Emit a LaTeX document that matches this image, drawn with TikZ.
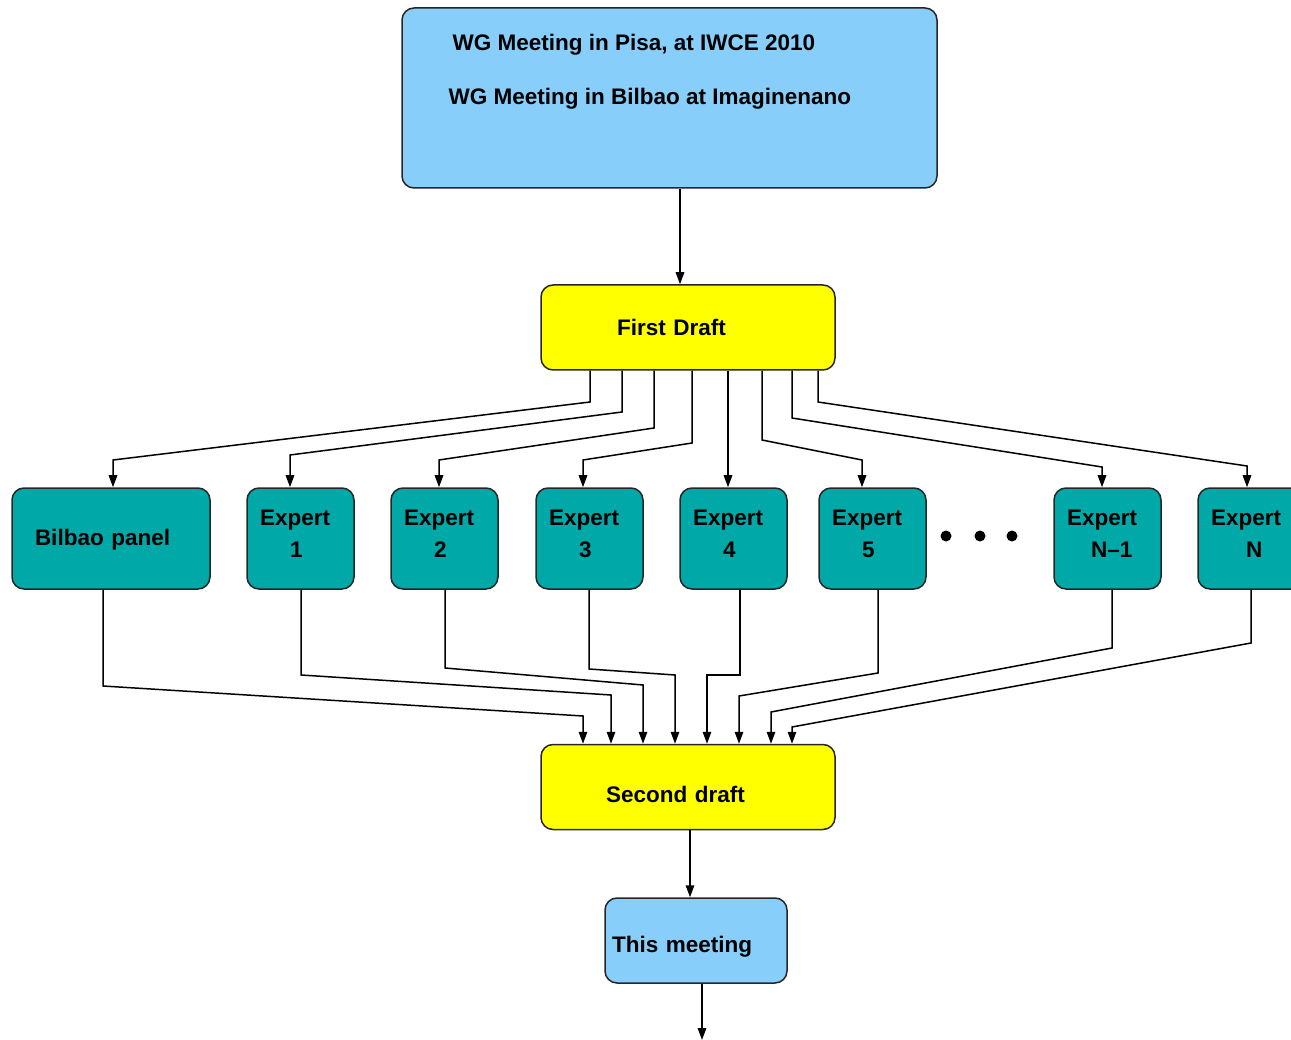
\documentclass[tikz,border=0pt]{standalone}
\usepackage{fontspec}
\setmainfont{Liberation Sans}
\usetikzlibrary{arrows.meta}

\definecolor{meetblue}{RGB}{135,206,250}
\definecolor{expertteal}{RGB}{0,168,168}
\definecolor{draftyellow}{RGB}{255,255,0}

\tikzset{
  box/.style={draw=black!85, line width=1.5pt, rounded corners=12pt, inner sep=0pt,
    font=\bfseries\fontsize{22.5}{32}\selectfont},
  meetbox/.style={box, fill=meetblue},
  draftbox/.style={box, fill=draftyellow, minimum width=294pt, minimum height=85pt},
  expertbox/.style={box, fill=expertteal, minimum width=107pt, minimum height=101pt,
    text width=81pt, align=left, text depth=42pt},
  link/.style={line width=1.5pt, -{Triangle[length=12pt,width=8.5pt]}},
  dot/.style={circle, fill=black, inner sep=0pt, minimum size=11pt}
}

\begin{document}
\begin{tikzpicture}[x=1pt,y=-1pt]
  \useasboundingbox (0,0) rectangle (1291,1040);
  \clip (0,0) rectangle (1291,1040);

  % meetings so far
  \node[meetbox, minimum width=535pt, minimum height=180pt] (meetings) at (669.5,98) {};
  \node[anchor=base west, font=\bfseries\fontsize{22.5}{26}\selectfont] (pisa) at (449,51) {WG Meeting in Pisa, at IWCE 2010};
  \node[anchor=base west, font=\bfseries\fontsize{22.5}{26}\selectfont] (bilbaomeet) at (445,105) {WG Meeting in Bilbao at Imaginenano};

  % drafts
  \node[draftbox, text width=142pt, align=left] (draft1) at (688,327.5) {First Draft};
  \node[draftbox, text width=164pt, align=left, text height=32pt] (draft2) at (688,787) {Second draft};

  % experts
  \node[expertbox, minimum width=198pt, text width=152pt, text depth=3pt] (bilbao) at (111,538.5) {Bilbao panel};
  \node[expertbox] (e1) at (300.5,538.5) {Expert\\\hspace*{30pt}1};
  \node[expertbox] (e2) at (444.5,538.5) {Expert\\\hspace*{30pt}2};
  \node[expertbox] (e3) at (589.5,538.5) {Expert\\\hspace*{30pt}3};
  \node[expertbox] (e4) at (733.5,538.5) {Expert\\\hspace*{30pt}4};
  \node[expertbox] (e5) at (872.5,538.5) {Expert\\\hspace*{30pt}5};
  \node[expertbox] (eN1) at (1107.5,538.5) {Expert\\\hspace*{24pt}N--1};
  \node[expertbox] (eN) at (1251.5,538.5) {Expert\\\hspace*{35pt}N};
  \node[dot] (dotA) at (946,536) {};
  \node[dot] (dotB) at (980,536) {};
  \node[dot] (dotC) at (1012,536) {};

  % this meeting
  \node[meetbox, minimum width=182pt, minimum height=85pt, text width=168pt, align=left, text height=28pt] (meet) at (696,940.5) {This meeting};
  \coordinate (next) at (702,1040);

  \draw[link] (meetings.south -| 680,0) -- (draft1.north -| 680,0);

  % first draft out to the panel and the experts
  \draw[link] (draft1.south -| 590,0) -- (590,402) -- (113,460) -- (bilbao.north -| 113,0);
  \draw[link] (draft1.south -| 622,0) -- (622,412) -- (290,455) -- (e1.north -| 290,0);
  \draw[link] (draft1.south -| 654,0) -- (654,428) -- (439,460) -- (e2.north -| 439,0);
  \draw[link] (draft1.south -| 692,0) -- (692,443) -- (583,460) -- (e3.north -| 583,0);
  \draw[link] (draft1.south -| 728,0) -- (e4.north -| 728,0);
  \draw[link] (draft1.south -| 762,0) -- (762,440) -- (862,460) -- (e5.north -| 862,0);
  \draw[link] (draft1.south -| 792,0) -- (792,418) -- (1102,467) -- (eN1.north -| 1102,0);
  \draw[link] (draft1.south -| 818,0) -- (818,402) -- (1247,466) -- (eN.north -| 1247,0);

  % back into the second draft
  \draw[link] (bilbao.south -| 103,0) -- (103,686) -- (583,716) -- (draft2.north -| 583,0);
  \draw[link] (e1.south -| 301,0) -- (301,675) -- (611,695) -- (draft2.north -| 611,0);
  \draw[link] (e2.south -| 445,0) -- (445,668) -- (643,685) -- (draft2.north -| 643,0);
  \draw[link] (e3.south -| 589,0) -- (589,669) -- (675,675) -- (draft2.north -| 675,0);
  \draw[link] (e4.south -| 740,0) -- (740,675) -- (707,675) -- (draft2.north -| 707,0);
  \draw[link] (e5.south -| 878,0) -- (878,673) -- (739,696) -- (draft2.north -| 739,0);
  \draw[link] (eN1.south -| 1112,0) -- (1112,648) -- (771,712) -- (draft2.north -| 771,0);
  \draw[link] (eN.south -| 1251,0) -- (1251,643) -- (792,727) -- (draft2.north -| 792,0);

  \draw[link] (draft2.south -| 690,0) -- (meet.north -| 690,0);
  \draw[link] (meet.south -| 702,0) -- (next);
\end{tikzpicture}
\end{document}
